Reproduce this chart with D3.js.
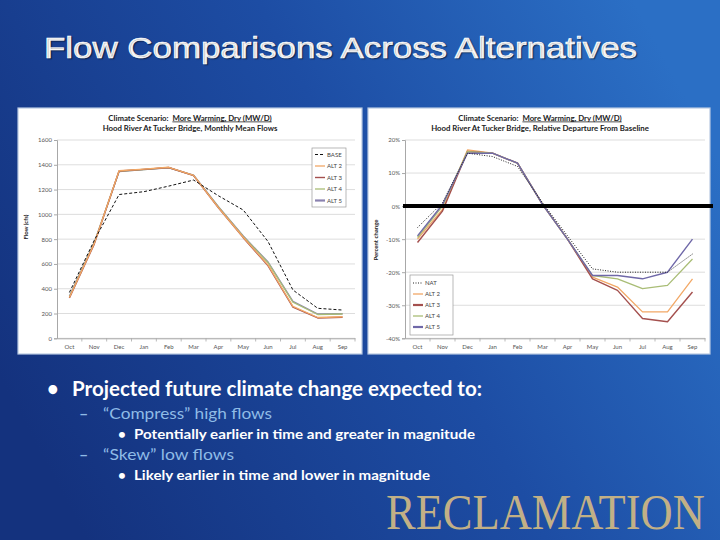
<!DOCTYPE html>
<html><head><meta charset="utf-8">
<script src="https://cdn.jsdelivr.net/npm/d3@7"></script>
<style>body{margin:0;padding:0;overflow:hidden}svg{display:block}</style>
</head><body>
<script>
// ---- data ----
const months = ["Oct","Nov","Dec","Jan","Feb","Mar","Apr","May","Jun","Jul","Aug","Sep"];
// Left chart: monthly mean flows (cfs)
const flowTicks = [0,200,400,600,800,1000,1200,1400,1600];
const flowBase = [370, 790, 1160, 1183, 1228, 1277, 1150, 1035, 780, 390, 242, 228];
const flowAlt2 = [330, 765, 1352, 1365, 1380, 1315, 1055, 815, 590, 258, 168, 174];
const flowAlt3 = [325, 760, 1350, 1363, 1378, 1313, 1052, 812, 585, 252, 164, 170];
const flowAlt4 = [335, 770, 1348, 1362, 1377, 1314, 1060, 822, 610, 292, 192, 196];
const flowAlt5 = [338, 772, 1346, 1361, 1376, 1316, 1062, 825, 615, 298, 196, 198];
const flowNames = ["BASE","ALT 2","ALT 3","ALT 4","ALT 5"];
// Right chart: relative departure from baseline (%)
const pctTicks = [-40,-30,-20,-10,0,10,20];
const pctNat  = [-6.5, 1, 16, 15, 12, 1, -9, -19, -20, -20, -20, -14.5];
const pctAlt2 = [-10, -1, 17, 16, 13, 0.5, -10, -21.5, -24.5, -32, -32, -22];
const pctAlt3 = [-11, -1.5, 16.5, 16, 13, 0.5, -10, -22, -25.5, -34, -35, -26];
const pctAlt4 = [-9.5, 0, 16.5, 16, 13, 0.5, -10, -21, -22, -25, -24, -16];
const pctAlt5 = [-9, 0.5, 16, 16, 13, 0.5, -10, -21, -21, -22, -20, -10];
const pctNames = ["NAT","ALT 2","ALT 3","ALT 4","ALT 5"];

const slideTitle = "Flow Comparisons Across Alternatives";

// ---- styles ----
const sStyles = [
  {color:"#111", w:1, dash:"3,2"},
  {color:"#f2a866", w:1.3, dash:null},
  {color:"#a4504e", w:1.4, dash:null},
  {color:"#a9bd76", w:1.3, dash:null},
  {color:"#8a82b0", w:1.4, dash:null}
];
const pStyles = [
  {color:"#222", w:1, dash:"1,1.5"},
  {color:"#f2a866", w:1.3, dash:null},
  {color:"#a4504e", w:1.4, dash:null},
  {color:"#a9bd76", w:1.3, dash:null},
  {color:"#6f68a8", w:1.4, dash:null}
];

const W=720,H=540;
const svg = d3.select("body").append("svg").attr("width",W).attr("height",H);
const defs = svg.append("defs");
const g = defs.append("linearGradient").attr("id","bg").attr("x1","0").attr("y1","0.7").attr("x2","1").attr("y2","0.3");
g.append("stop").attr("offset","0").attr("stop-color","#14327e");
g.append("stop").attr("offset","0.55").attr("stop-color","#1d4da4");
g.append("stop").attr("offset","1").attr("stop-color","#2b6fc5");
svg.append("rect").attr("width",W).attr("height",H).attr("fill","url(#bg)");

// slide title
svg.append("text").attr("x",44).attr("y",58).text(slideTitle)
  .attr("font-family","'Liberation Sans', Arial, sans-serif").attr("font-size",29)
  .attr("fill","#fff").attr("stroke","#fff").attr("stroke-width",0.6)
  .attr("textLength",593).attr("lengthAdjust","spacingAndGlyphs")
  .style("text-shadow","1px 1px 1px rgba(0,0,0,0.4)");

function drawChart(cfg){
  const p = svg.append("g");
  p.append("rect").attr("x",cfg.px).attr("y",108).attr("width",cfg.pw).attr("height",246)
    .attr("fill","#fff").attr("stroke","#b7c9e2").attr("stroke-width",1.2);
  const x = d3.scaleBand().domain(months).range([cfg.x0,cfg.x1]);
  const y = d3.scaleLinear().domain(cfg.domain).range([338.3,140]);
  // gridlines
  p.append("g").selectAll("line").data(cfg.ticks).join("line")
    .attr("x1",cfg.x0).attr("x2",cfg.x1).attr("y1",d=>y(d)).attr("y2",d=>y(d))
    .attr("stroke","#d4d4d4").attr("stroke-width",0.8);
  // y axis
  const ya = d3.axisLeft(y).tickValues(cfg.ticks).tickSize(3).tickFormat(cfg.fmt);
  const yg = p.append("g").attr("transform",`translate(${cfg.x0},0)`).call(ya);
  yg.select(".domain").attr("stroke","#a8a8a8");
  yg.selectAll(".tick line").attr("stroke","#a8a8a8");
  yg.selectAll("text").attr("font-family","Lato, 'DejaVu Sans', sans-serif").attr("font-size",6).attr("fill","#555").attr("x",-5);
  // x axis
  const xa = d3.axisBottom(x).tickSize(0);
  const xg = p.append("g").attr("transform",`translate(0,${cfg.xaxisY})`).call(xa);
  xg.select(".domain").attr("stroke","#a8a8a8");
  xg.selectAll("text").attr("font-family","Lato, 'DejaVu Sans', sans-serif").attr("font-size",6).attr("fill","#555")
    .attr("y",0).attr("dy",0).attr("transform",`translate(0,${349-cfg.xaxisY})`);
  // ticks between categories
  p.append("g").selectAll("line").data(months).join("line")
    .attr("x1",d=>x(d)+x.bandwidth()).attr("x2",d=>x(d)+x.bandwidth())
    .attr("y1",338.3).attr("y2",341.5).attr("stroke","#a8a8a8").attr("stroke-width",0.8);
  // titles
  const t1 = p.append("text").attr("x",cfg.tcx).attr("y",120.5).attr("text-anchor","middle")
    .attr("font-family","Lato, 'DejaVu Sans', sans-serif").attr("font-size",7.8).attr("font-weight","bold").attr("fill","#222");
  t1.append("tspan").text("Climate Scenario:\u00a0\u00a0");
  t1.append("tspan").text("More Warming, Dry (MW/D)").attr("text-decoration","underline");
  p.append("text").attr("x",cfg.tcx).attr("y",131).attr("text-anchor","middle").text(cfg.title2)
    .attr("font-family","Lato, 'DejaVu Sans', sans-serif").attr("font-size",7.8).attr("font-weight","bold").attr("fill","#222");
  // y title
  p.append("text").attr("transform",`translate(${cfg.ytx},${cfg.yty}) rotate(-90)`).attr("text-anchor","middle")
    .text(cfg.ytitle).attr("font-family","Lato, 'DejaVu Sans', sans-serif").attr("font-size",6).attr("font-weight","bold").attr("fill","#222");
  const line = d3.line().x((d,i)=>x(months[i])+x.bandwidth()/2).y(d=>y(d));
  cfg.order.forEach(k=>{
    const st = cfg.styles[k];
    p.append("path").attr("d",line(cfg.series[k])).attr("fill","none")
      .attr("stroke",st.color).attr("stroke-width",st.w).attr("stroke-dasharray",st.dash)
      .attr("stroke-linejoin","round");
  });
  if(cfg.extra) cfg.extra(p,x,y);
  // legend
  const L = cfg.legend;
  p.append("rect").attr("x",L.x).attr("y",L.y).attr("width",L.w).attr("height",L.h)
    .attr("fill","#fff").attr("stroke","#9a9a9a").attr("stroke-width",0.7);
  cfg.names.forEach((n,i)=>{
    const st = cfg.styles[i];
    const yy = L.y+L.first+i*L.step;
    p.append("line").attr("x1",L.x+3).attr("x2",L.x+13).attr("y1",yy).attr("y2",yy)
      .attr("stroke",st.color).attr("stroke-width",L.thick && L.thick.includes(i)?2.2:st.w).attr("stroke-dasharray",st.dash);
    p.append("text").attr("x",L.x+15).attr("y",yy+2).text(n)
      .attr("font-family","Lato, 'DejaVu Sans', sans-serif").attr("font-size",6).attr("fill","#444");
  });
}

drawChart({
  px:18, pw:344, x0:57, x1:355, domain:[0,1600], ticks:flowTicks, fmt:d=>d,
  xaxisY:338.3, tcx:190, title2:"Hood River At Tucker Bridge, Monthly Mean Flows",
  ytx:28, yty:227, ytitle:"Flow (cfs)",
  series:[flowBase,flowAlt2,flowAlt3,flowAlt4,flowAlt5], styles:sStyles, names:flowNames,
  order:[4,3,2,1,0],
  legend:{x:312,y:148,w:34,h:59,first:6.5,step:11.5,thick:[4]}
});

drawChart({
  px:368, pw:342, x0:405, x1:705, domain:[-40,20], ticks:pctTicks, fmt:d=>d+"%",
  xaxisY:338.3, tcx:540, title2:"Hood River At Tucker Bridge, Relative Departure From Baseline",
  ytx:378, yty:240, ytitle:"Percent change",
  series:[pctNat,pctAlt2,pctAlt3,pctAlt4,pctAlt5], styles:pStyles, names:pctNames,
  order:[1,2,3,4,0],
  legend:{x:410,y:275,w:43,h:60,first:8,step:11,thick:[2,4]},
  extra:(p,x,y)=>{
    p.append("line").attr("x1",403).attr("x2",713).attr("y1",y(0)).attr("y2",y(0))
      .attr("stroke","#000").attr("stroke-width",4);
  }
});

// bullets
const bf = "Lato, 'Open Sans', 'DejaVu Sans', sans-serif";
const bl = [
  {bx:47, bchar:"•", tx:72, y:396, size:20, color:"#fff", w:"bold", text:"Projected future climate change expected to:", len:410},
  {bx:79, bchar:"–", tx:103, y:418.5, size:16, color:"#8fbbe6", w:"normal", text:"\u201cCompress\u201d high flows", len:169},
  {bx:118, bchar:"•", tx:134, y:438.5, size:13.5, color:"#fff", w:"bold", text:"Potentially earlier in time and greater in magnitude", len:341},
  {bx:79, bchar:"–", tx:103, y:460, size:16, color:"#8fbbe6", w:"normal", text:"\u201cSkew\u201d low flows", len:131},
  {bx:118, bchar:"•", tx:134, y:480, size:13.5, color:"#fff", w:"bold", text:"Likely earlier in time and lower in magnitude", len:296}
];
bl.forEach(b=>{
  svg.append("text").attr("x",b.bx).attr("y",b.y).text(b.bchar).attr("font-family",bf)
    .attr("font-size",b.size).attr("fill",b.color).attr("font-weight","bold");
  svg.append("text").attr("x",b.tx).attr("y",b.y).text(b.text).attr("font-family",bf)
    .attr("font-size",b.size).attr("fill",b.color).attr("font-weight",b.w)
    .attr("textLength",b.len).attr("lengthAdjust","spacingAndGlyphs");
});

svg.append("text").attr("transform","translate(386,529) scale(1,1.15)").attr("x",0).attr("y",0).text("RECLAMATION")
  .attr("font-family","'Liberation Serif', 'Times New Roman', serif").attr("font-size",44.5)
  .attr("fill","#c2b086");
</script>
</body></html>
